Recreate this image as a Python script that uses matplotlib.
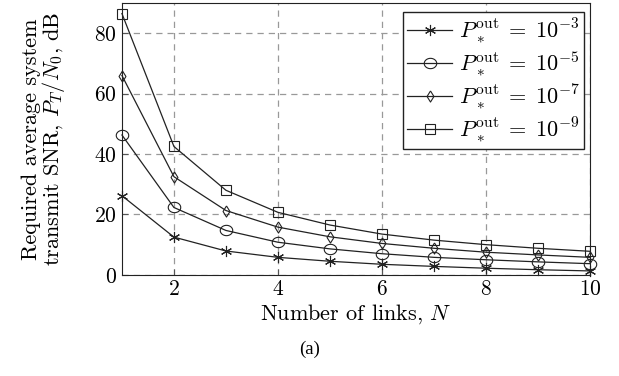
import matplotlib.pyplot as plt
import numpy as np

plt.rcParams["font.family"] = "cmr10"
plt.rcParams["mathtext.fontset"] = "cm"
plt.rcParams["axes.formatter.use_mathtext"] = True

# Data
links = [1, 2, 3, 4, 5, 6, 7, 8, 9, 10]
snr_e3 = [26.2, 12.5, 7.9, 5.8, 4.5, 3.5, 2.8, 2.2, 1.7, 1.3]
snr_e5 = [46.3, 22.3, 14.7, 10.8, 8.6, 7.0, 5.8, 5.0, 4.3, 3.7]
snr_e7 = [66.0, 32.5, 21.3, 15.8, 12.6, 10.4, 8.8, 7.5, 6.6, 5.8]
snr_e9 = [86.5, 42.5, 28.0, 20.7, 16.5, 13.5, 11.5, 10.0, 8.8, 7.8]
labels = [r"$P_*^{\rm out}\;=\;10^{-3}$", r"$P_*^{\rm out}\;=\;10^{-5}$",
          r"$P_*^{\rm out}\;=\;10^{-7}$", r"$P_*^{\rm out}\;=\;10^{-9}$"]

fig = plt.figure(figsize=(6.19, 3.76), dpi=100)
ax = fig.add_axes([0.197, 0.269, 0.756, 0.723])

# pgfplots-like marks
t = np.linspace(0, 2 * np.pi, 40)
ellipse = np.column_stack([1.15 * np.cos(t), 0.95 * np.sin(t)])
diamond = [(0, 1), (0.62, 0), (0, -1), (-0.62, 0), (0, 1)]

styles = [
    dict(marker=(6, 2, 0), markersize=8),
    dict(marker=ellipse, markersize=9),
    dict(marker=diamond, markersize=8),
    dict(marker="s", markersize=6.5),
]
for ys, lab, st in zip([snr_e3, snr_e5, snr_e7, snr_e9], labels, styles):
    ax.plot(links, ys, color="#222222", lw=0.9, markerfacecolor="none",
            markeredgecolor="#222222", markeredgewidth=0.8, label=lab,
            clip_on=False, zorder=3, **st)

ax.set_xlim(1, 10)
ax.set_ylim(0, 90)
ax.set_xticks([2, 4, 6, 8, 10])
ax.set_yticks([0, 20, 40, 60, 80])
ax.grid(True, ls=(0, (5, 4)), color="#999999", lw=0.9)
ax.tick_params(direction="in", labelsize=15.5, length=4, color="#555555")
for s in ax.spines.values():
    s.set_color("#222222")
    s.set_zorder(4)

ax.set_xlabel(r"Number of links, $N$", fontsize=16, labelpad=2)
ax.set_ylabel("Required average system\n" + r"transmit SNR, $P_T/N_0$, dB",
              fontsize=16, labelpad=20, linespacing=0.9)

leg = ax.legend(loc="upper right", fontsize=16, frameon=True, fancybox=False,
                edgecolor="#222222", framealpha=1, handlelength=2.0,
                handletextpad=0.3, borderpad=0.2, labelspacing=0.2,
                bbox_to_anchor=(1.012, 1.008))
leg.get_frame().set_linewidth(1.0)
leg.set_zorder(5)

fig.text(0.5, 0.07, "(a)", family="Liberation Serif", fontsize=13.5,
         ha="center", va="center")

fig.savefig("out.png", dpi=100)
